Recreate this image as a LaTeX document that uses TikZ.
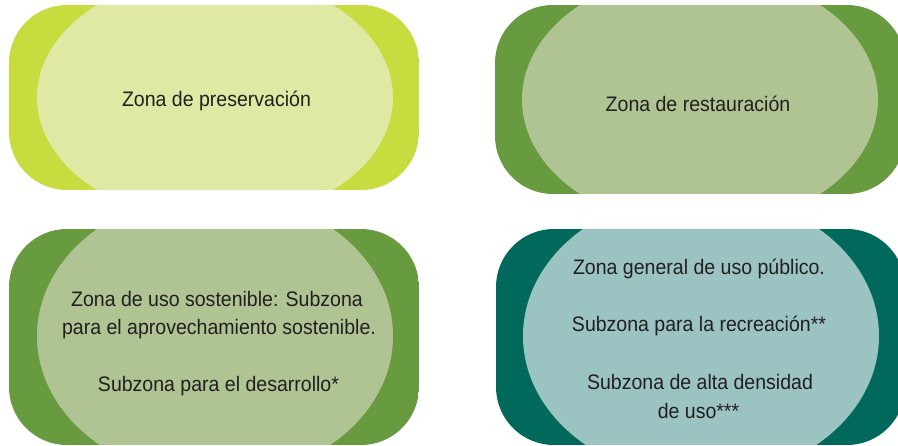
\documentclass[tikz,border=0pt]{standalone}
\usepackage{fontspec}
\setmainfont{Liberation Sans}[FakeStretch=0.93]
\definecolor{limeout}{HTML}{C8DB3F}
\definecolor{limein}{HTML}{E0E9A4}
\definecolor{greenout}{HTML}{689A3F}
\definecolor{greenin}{HTML}{AFC492}
\definecolor{tealout}{HTML}{00695C}
\definecolor{tealin}{HTML}{9AC3C1}
\definecolor{txt}{HTML}{231F20}
\begin{document}
\begin{tikzpicture}[x=1pt,y=1pt,
  lbl/.style={anchor=base,inner sep=0pt,text=txt,font=\fontsize{21}{28.5}\selectfont}]
\useasboundingbox (0,0) rectangle (898,-446);
\clip (0,0) rectangle (898,-446);
% box 1
\begin{scope}
  \clip[rounded corners=58] (9,-5) rectangle (419,-190);
  \fill[limeout] (9,-5) rectangle (419,-190);
  \fill[limein] (215,-97.5) ellipse [x radius=178, y radius=123.5];
\end{scope}
% box 2
\begin{scope}
  \clip[rounded corners=58] (495,-5) rectangle (905,-194);
  \fill[greenout] (495,-5) rectangle (905,-194);
  \fill[greenin] (700,-99.5) ellipse [x radius=178, y radius=128];
\end{scope}
% box 3
\begin{scope}
  \clip[rounded corners=58] (9,-229) rectangle (419,-445);
  \fill[greenout] (9,-229) rectangle (419,-445);
  \fill[greenin] (215,-336) ellipse [x radius=178, y radius=143];
\end{scope}
% box 4
\begin{scope}
  \clip[rounded corners=58] (496,-229) rectangle (905,-445);
  \fill[tealout] (496,-229) rectangle (905,-445);
  \fill[tealin] (701,-336) ellipse [x radius=178, y radius=143];
\end{scope}
% texts
\node[lbl] (t1) at (216.5,-106.5) {Zona de preservación};
\node[lbl] (t2) at (698,-112) {Zona de restauración};
\node[lbl] (t3a) at (217,-306.5) {Zona de uso sostenible: Subzona};
\node[lbl] (t3b) at (219,-335) {para el aprovechamiento sostenible.};
\node[lbl] (t3c) at (218.5,-392) {Subzona para el desarrollo*};
\node[lbl] (t4a) at (699,-274.5) {Zona general de uso público.};
\node[lbl] (t4b) at (699,-332) {Subzona para la recreación**};
\node[lbl] (t4c) at (700,-390) {Subzona de alta densidad};
\node[lbl] (t4d) at (698.5,-418.5) {de uso***};
\end{tikzpicture}
\end{document}
